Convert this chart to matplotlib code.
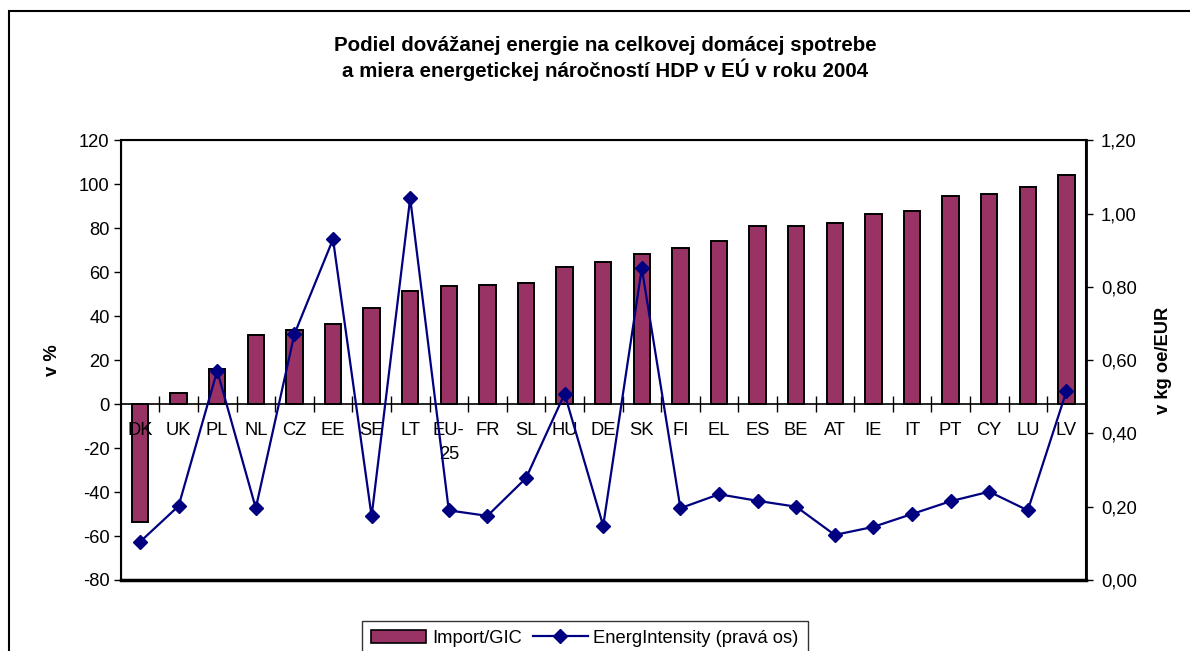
import matplotlib
matplotlib.use("Agg")
import matplotlib.pyplot as plt
from matplotlib.patches import Rectangle
from matplotlib.lines import Line2D

plt.rcParams['font.family'] = ['Liberation Sans', 'DejaVu Sans']

categories = ["DK", "UK", "PL", "NL", "CZ", "EE", "SE", "LT", "EU-\n25", "FR", "SL", "HU", "DE",
              "SK", "FI", "EL", "ES", "BE", "AT", "IE", "IT", "PT", "CY", "LU", "LV"]
import_gic = [-53.8, 4.9, 15.8, 31.4, 33.5, 36.4, 43.5, 51.4, 53.8, 54.4, 55.3, 62.3, 64.5,
              68.3, 71.2, 74.2, 80.9, 81.1, 82.3, 86.7, 87.9, 94.8, 95.5, 98.8, 104.2]
energ_intensity = [0.104, 0.202, 0.571, 0.196, 0.671, 0.930, 0.174, 1.042, 0.190, 0.175, 0.278, 0.508, 0.148,
                   0.851, 0.196, 0.234, 0.216, 0.200, 0.123, 0.145, 0.180, 0.215, 0.241, 0.190, 0.515]
left_ticks = [-80, -60, -40, -20, 0, 20, 40, 60, 80, 100, 120]
right_ticks = [0.0, 0.2, 0.4, 0.6, 0.8, 1.0, 1.2]

FS = 13.2
W, H = 1190, 651
fig = plt.figure(figsize=(W / 100, H / 100), dpi=100)

# outer chart border (extends past right/bottom edges)
fig.patches.append(Rectangle((9 / W, -0.05), 1.2, 1 - 11 / H + 0.05, transform=fig.transFigure,
                             fill=False, edgecolor='black', linewidth=1.5))

ax = fig.add_axes([120.7 / W, 1 - 580 / H, (1085.7 - 120.7) / W, (580 - 140.3) / H])
x = list(range(len(categories)))
ax.bar(x, import_gic, width=0.42, color='#993366', edgecolor='black', linewidth=1.4, zorder=2,
       label='Import/GIC')
ax.set_xlim(-0.5, len(categories) - 0.5)
ax.set_ylim(-80, 120)
ax.set_yticks(left_ticks)
ax.set_yticklabels([str(t) for t in left_ticks], fontsize=FS)
ax.tick_params(axis='y', direction='out', length=5, width=1, pad=3)
for s in ['top', 'left', 'right']:
    ax.spines[s].set_linewidth(1.5)
ax.spines['bottom'].set_position(('data', 0))
ax.spines['bottom'].set_linewidth(1.2)
ax.axhline(-80, color='black', linewidth=2.5, clip_on=False, zorder=5)

ax.set_xticks(x)
ax.set_xticklabels(categories, fontsize=FS, va='top', linespacing=1.55)
ax.tick_params(axis='x', which='major', length=0, pad=13)
ax.set_xticks([i + 0.5 for i in x[:-1]], minor=True)
ax.tick_params(axis='x', which='minor', direction='inout', length=12, width=1)
ax.xaxis.set_zorder(3)

ax.set_ylabel('v %', fontsize=FS, fontweight='bold', labelpad=13)

ax2 = ax.twinx()
ax2.plot(x, energ_intensity, color='#000080', linewidth=1.6, marker='D', markersize=7.5,
         label='EnergIntensity (pravá os)', zorder=3)
ax2.set_ylim(0, 1.2)
ax2.set_yticks(right_ticks)
ax2.set_yticklabels([f"{t:.2f}".replace('.', ',') for t in right_ticks], fontsize=FS)
ax2.tick_params(axis='y', direction='out', length=5, width=1, pad=6)
ax2.spines['right'].set_linewidth(2)
ax2.set_ylabel('v kg oe/EUR', fontsize=FS, fontweight='bold', labelpad=13)

fig.text(605 / W, 1 - 58.5 / H,
         'Podiel dovážanej energie na celkovej domácej spotrebe\na miera energetickej náročností HDP v EÚ v roku 2004',
         ha='center', va='center', fontsize=14.8, fontweight='bold', linespacing=1.16)

handles = [Rectangle((0, 0), 1, 1, facecolor='#993366', edgecolor='black', linewidth=1.2),
           Line2D([], [], color='#000080', linewidth=1.6, marker='D', markersize=7.5)]
leg = fig.legend(handles, ['Import/GIC', 'EnergIntensity (pravá os)'], loc='lower center',
                 bbox_to_anchor=(585 / W, -14 / H), ncol=2, fontsize=FS, frameon=True,
                 fancybox=False, edgecolor='black', handlelength=3.0, handleheight=0.7,
                 columnspacing=0.6, handletextpad=0.3, borderpad=0.5)
leg.get_frame().set_linewidth(1.0)

fig.savefig('out.png', dpi=100)
